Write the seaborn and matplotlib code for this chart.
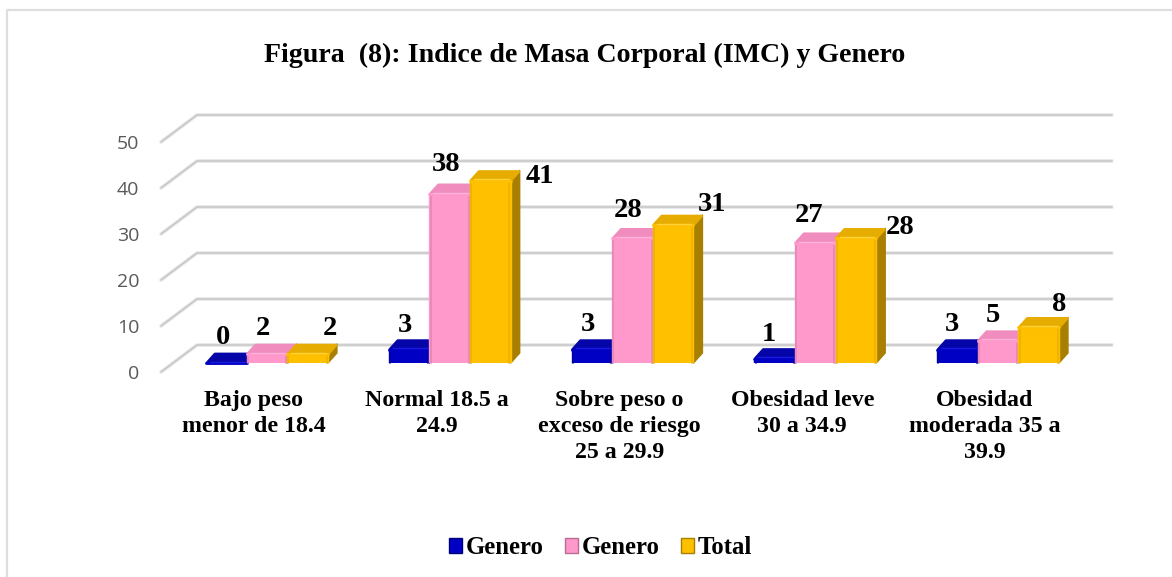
import numpy as np
import pandas as pd
import matplotlib
matplotlib.use("Agg")
import matplotlib.pyplot as plt
import seaborn as sns
from matplotlib.patches import Polygon
from matplotlib.lines import Line2D
from matplotlib.transforms import ScaledTranslation

categories = ["Bajo peso\nmenor de 18.4", "Normal 18.5 a\n24.9",
              "Sobre peso o\nexceso de riesgo\n25 a 29.9", "Obesidad leve\n30 a 34.9",
              "Obesidad\nmoderada 35 a\n39.9"]
# two series carry the same name in the original, so keep separate keys for hue
series_keys = ["genero_1", "genero_2", "total"]
series_names = ["Genero", "Genero", "Total"]
genero_1 = [0, 3, 3, 1, 3]
genero_2 = [2, 38, 28, 27, 5]
total = [2, 41, 31, 28, 8]
y_ticks = [0, 10, 20, 30, 40, 50]

front_colors = ["#0000c4", "#ff99cc", "#ffc000"]
top_colors = ["#0505a8", "#f08cbe", "#e6ad00"]
side_colors = ["#00007a", "#b86c92", "#a87f00"]
edge_colors = ["#0000a0", "#e488b6", "#eeb200"]
light_colors = ["#1a1ae0", "#ffb3d9", "#ffd23c"]

W, H = 1172, 577
SERIF = "Liberation Serif"

df = pd.DataFrame({"cat": categories, "genero_1": genero_1, "genero_2": genero_2, "total": total})
df = df.melt(id_vars="cat", var_name="serie", value_name="valor")

sns.set_theme(style="white")
fig = plt.figure(figsize=(W / 100, H / 100), dpi=100)

def px_axes(left, top, right, bottom):
    return fig.add_axes([left / W, 1 - bottom / H, (right - left) / W, (bottom - top) / H])

# outer frame, only top and left reach into the picture
fig.add_artist(Line2D([6.5 / W, 6.5 / W, 1], [0, 1 - 10 / H, 1 - 10 / H], transform=fig.transFigure,
                      color="#dedede", lw=1.6))

# walls of the 3d box: x is in pixels, y in chart units
wall = px_axes(161, 142, 1112, 372)
wall.set_xlim(161, 1112)
wall.set_ylim(0, 50)
wall.patch.set_alpha(0)
for s in wall.spines.values():
    s.set_visible(False)
wall.set_xticks([])
wall.set_yticks(y_ticks)
wall.tick_params(axis="y", length=0, pad=15.5, labelsize=14, labelcolor="#595959")
for t in wall.get_yticklabels():
    t.set_family("Open Sans")
back = 27 / 4.6
for v in y_ticks:
    for lw, col in [(2.6, "#e6e6e6"), (1.0, "#c4c4c4")]:
        wall.plot([161, 197, 1112], [v, v + back, v + back], color=col, lw=lw, clip_on=False,
                  solid_capstyle="round", solid_joinstyle="round")

# bars
ax = px_axes(175.6, 140.5, 1089.4, 363)
ax.patch.set_alpha(0)
sns.barplot(data=df, x="cat", y="valor", hue="serie", hue_order=series_keys, order=categories,
            palette=front_colors, width=0.667, gap=0, saturation=1, ax=ax, legend=True)
ax.set_xlim(-0.5, 4.5)
ax.set_ylim(0, 50)
ax.set_xlabel("")
ax.set_ylabel("")
ax.set_yticks([])
for s in ax.spines.values():
    s.set_visible(False)

px_x = 5 / 913.8
px_y = 50 / 222.5
dx, dy = 9 * px_x, 10 * px_y

handles, _ = ax.get_legend_handles_labels()
ax.tick_params(axis="x", length=0, pad=19.5)
shift = ScaledTranslation(-13 / 100, 0, fig.dpi_scale_trans)
for t in ax.get_xticklabels():
    t.set_transform(t.get_transform() + shift)
    t.set_family(SERIF)
    t.set_fontweight("bold")
    t.set_fontsize(17.2)
    t.set_linespacing(1.32)
    t.set_color("black")

# label nudges in pixels, one row per series
nudge_x = [[-3, -4, -4, -6, -5], [-4, -4, -4, -6, -5], [22, 50, 39, 44, 21]]
nudge_y = [[3, 2, 3, 2, 3], [3, 7, 5, 5, 3], [3, -18, -2, -12, 0]]
values = [genero_1, genero_2, total]

for s, cont in enumerate(ax.containers):
    for c, bar in enumerate(cont):
        x0, w = bar.get_x(), bar.get_width()
        h = bar.get_height()
        x1 = x0 + w
        base = 3 + s * 3
        bar.set_edgecolor(front_colors[s])
        bar.set_linewidth(1.0)
        bar.set_joinstyle("round")
        bar.set_zorder(base + 0.5)
        side = Polygon([(x1, 0), (x1 + dx, dy), (x1 + dx, h + dy), (x1, h)], closed=True,
                       fc=side_colors[s], ec=side_colors[s], lw=1, joinstyle="round",
                       zorder=base, clip_on=False)
        top = Polygon([(x0 + dx * 0.1, h), (x0 + dx, h + dy * 0.9), (x1 + dx * 0.9, h + dy * 0.9), (x1, h)],
                      closed=True, fc=top_colors[s], ec=top_colors[s], lw=2, joinstyle="round",
                      zorder=base + 1, clip_on=False)
        ax.add_patch(side)
        ax.add_patch(top)
        # soft bevel: darker rims on the front, bright edge along the top
        if h > 0:
            for xe in (x0 + 1.2 * px_x, x1 - 1.2 * px_x):
                ax.plot([xe, xe], [0, h], color=edge_colors[s], lw=1.2, zorder=base + 1.2,
                        solid_capstyle="round", clip_on=False)
        ax.plot([x0, x1], [h, h], color=front_colors[s], lw=2, zorder=base + 1.5,
                solid_capstyle="round", clip_on=False)
        ax.plot([x0 + 4 * px_x, x1 - 2 * px_x], [h + 0.3, h + 0.3], color=light_colors[s], lw=1,
                zorder=base + 1.6, solid_capstyle="round", clip_on=False)
        ax.text(x0 + w / 2 + nudge_x[s][c] * px_x, h + dy + nudge_y[s][c] * px_y, str(values[s][c]),
                ha="center", va="bottom", family=SERIF, fontweight="bold", fontsize=20.5,
                color="black", zorder=20, clip_on=False)

leg = ax.legend(handles, series_names, loc="center", bbox_to_anchor=(600.5 / W, 1 - 548 / H),
                bbox_transform=fig.transFigure, ncol=3, frameon=False, handlelength=0.53, handleheight=0.53,
                handletextpad=0.16, columnspacing=0.85, borderpad=0,
                prop={"family": SERIF, "weight": "bold", "size": 17.8})
for t in leg.get_texts():
    t.set_color("black")
for hd, col in zip(leg.legend_handles, side_colors):
    hd.set_edgecolor(col)
    hd.set_linewidth(1)

fig.suptitle("Figura  (8): Indice de Masa Corporal (IMC) y Genero", x=585 / W, y=1 - 55 / H,
             va="center", family=SERIF, fontweight="bold", fontsize=20.1, color="black")

fig.savefig("out.png", dpi=100, facecolor="white")
